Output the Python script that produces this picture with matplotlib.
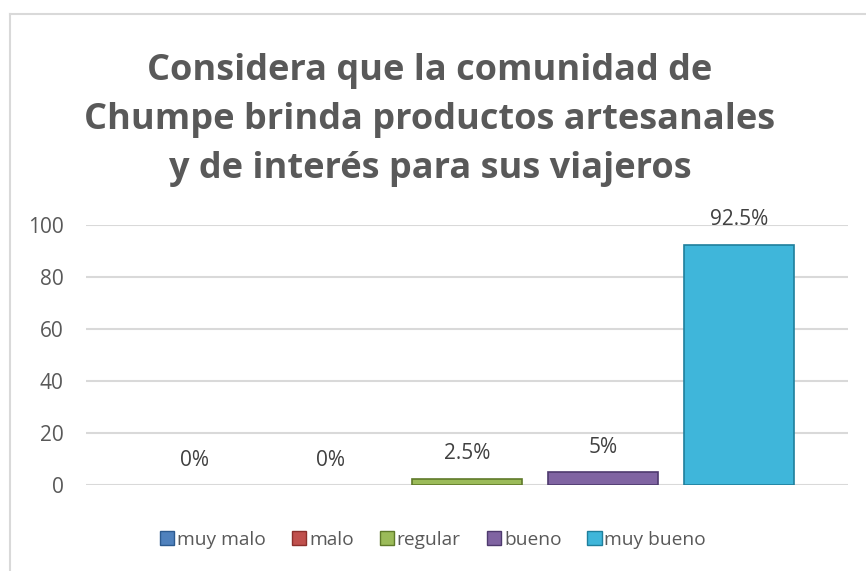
import numpy as np
from matplotlib import pyplot as plt
from matplotlib.lines import Line2D
from matplotlib.patches import Patch

## Data ##
categorias = ['muy malo', 'malo', 'regular', 'bueno', 'muy bueno']
valores = [0, 0, 2.5, 5, 92.5]
etiquetas = ['0%', '0%', '2.5%', '5%', '92.5%']
colores = ['#4F81BD', '#C0504D', '#9BBB59', '#8064A2', '#3FB6DA']
bordes = ['#2c5a8f', '#8c2f2c', '#5f7a2a', '#4e3a6e', '#1f7f9c']
titulo = 'Considera que la comunidad de\nChumpe brinda productos artesanales\ny de interés para sus viajeros'

plt.rcParams['font.family'] = ['Open Sans', 'DejaVu Sans']
gris = '#595959'

fig = plt.figure(figsize=(8.66, 5.71), dpi=100)
ax = fig.add_axes([86/866, 86/571, 762/866, 260/571])

x = np.arange(len(categorias))
anchos_borde = [1.2 if v > 0 else 0 for v in valores]
ax.bar(x, valores, width=0.81, color=colores, edgecolor=bordes, linewidth=anchos_borde, zorder=3)
for xi, v, lab in zip(x, valores, etiquetas):
    ax.text(xi, v + 9.6, lab, ha='center', va='center', fontsize=15, color='#404040', clip_on=False)

ax.set_xlim(-0.80, 4.80)
ax.set_ylim(0, 100)
ax.set_yticks(range(0, 101, 20))
ax.set_xticks([])
ax.yaxis.grid(True, color='#d9d9d9', linewidth=1.5, zorder=0)
ax.tick_params(axis='y', length=0, pad=16, labelsize=15, labelcolor=gris)
for s in ax.spines.values():
    s.set_visible(False)

fig.text(430/866, 1 - 120/571, titulo, ha='center', va='center', fontsize=26,
         fontweight='bold', color=gris, linespacing=1.47)

handles = [Patch(facecolor=c, edgecolor=b) for c, b in zip(colores, bordes)]
fig.legend(handles, categorias, loc='center', bbox_to_anchor=(433/866, 1 - 540/571), ncol=5,
           frameon=False, fontsize=13.8, labelcolor=gris, handlelength=0.75, handleheight=0.75,
           handletextpad=0.15, columnspacing=1.35)

# chart frame
fig.add_artist(Line2D([10/866, 10/866], [0, 1 - 14/571], color='#d9d9d9', linewidth=1.5))
fig.add_artist(Line2D([10/866, 1], [1 - 14/571, 1 - 14/571], color='#d9d9d9', linewidth=1.5))

fig.savefig('out.png', dpi=100)
